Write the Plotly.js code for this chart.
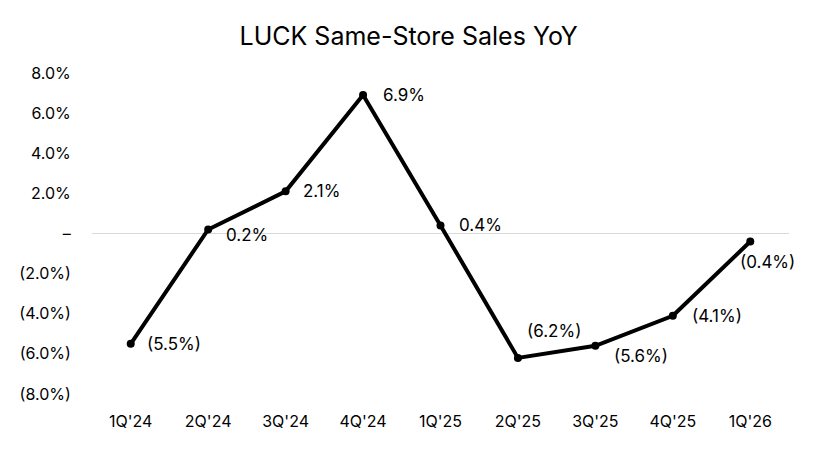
<!DOCTYPE html>
<html>
<head>
<meta charset="utf-8">
<script src="https://cdn.plot.ly/plotly-3.0.1.min.js"></script>
<style>html,body{margin:0;padding:0;background:#fff;}#chart{width:834px;height:463px;}</style>
</head>
<body>
<div id="chart"></div>
<script>
const quarters = ["1Q'24","2Q'24","3Q'24","4Q'24","1Q'25","2Q'25","3Q'25","4Q'25","1Q'26"];
const sssYoY = [-5.5, 0.2, 2.1, 6.9, 0.4, -6.2, -5.6, -4.1, -0.4];
const yTickVals = [8, 6, 4, 2, 0, -2, -4, -6, -8];
const yTickText = ["8.0%","6.0%","4.0%","2.0%","–","(2.0%)","(4.0%)","(6.0%)","(8.0%)"];

// label offsets (style only)
const labelDx = [14, 16, 15, 18, 16, 7, 17, 17, -12];
const labelDy = [0, -6, 0, 0, 0, 27, -10, 0, -20];

function fmt(v){ return v < 0 ? "(" + Math.abs(v).toFixed(1) + "%)" : v.toFixed(1) + "%"; }

const FONT = "Inter, 'Liberation Sans', Arial, sans-serif";

const annotations = quarters.map((q, i) => ({
  x: q, y: sssYoY[i], xref: 'x', yref: 'y',
  text: fmt(sssYoY[i]), showarrow: false,
  xanchor: 'left', yanchor: 'middle',
  xshift: labelDx[i], yshift: labelDy[i],
  font: {family: FONT, size: 17, color: '#000'}
}));

const trace = {
  x: quarters, y: sssYoY, type: 'scatter', mode: 'lines+markers',
  line: {color: '#000', width: 4},
  marker: {color: '#000', size: 8},
  hoverinfo: 'skip'
};

const layout = {
  width: 834, height: 463,
  margin: {l: 92, r: 45, t: 73, b: 69},
  paper_bgcolor: '#fff', plot_bgcolor: '#fff',
  showlegend: false,
  title: {text: 'LUCK Same-Store Sales YoY', x: 0.49, xanchor: 'center', y: 0.922, yanchor: 'middle',
          font: {family: FONT, size: 25, color: '#000'}},
  xaxis: {
    type: 'category', range: [-0.5, 8.5], showgrid: false, zeroline: false, showline: false,
    ticks: 'outside', ticklen: 13, tickcolor: 'rgba(0,0,0,0)',
    tickfont: {family: FONT, size: 16, color: '#000'}
  },
  yaxis: {
    range: [-8, 8], showgrid: false, zeroline: true, zerolinecolor: '#d9d9d9', zerolinewidth: 1,
    showline: false, tickvals: yTickVals, ticktext: yTickText,
    ticks: 'outside', ticklen: 17, tickcolor: 'rgba(0,0,0,0)',
    tickfont: {family: FONT, size: 16, color: '#000'}
  },
  annotations: annotations
};

Plotly.newPlot('chart', [trace], layout, {displayModeBar: false, staticPlot: true});
</script>
</body>
</html>
